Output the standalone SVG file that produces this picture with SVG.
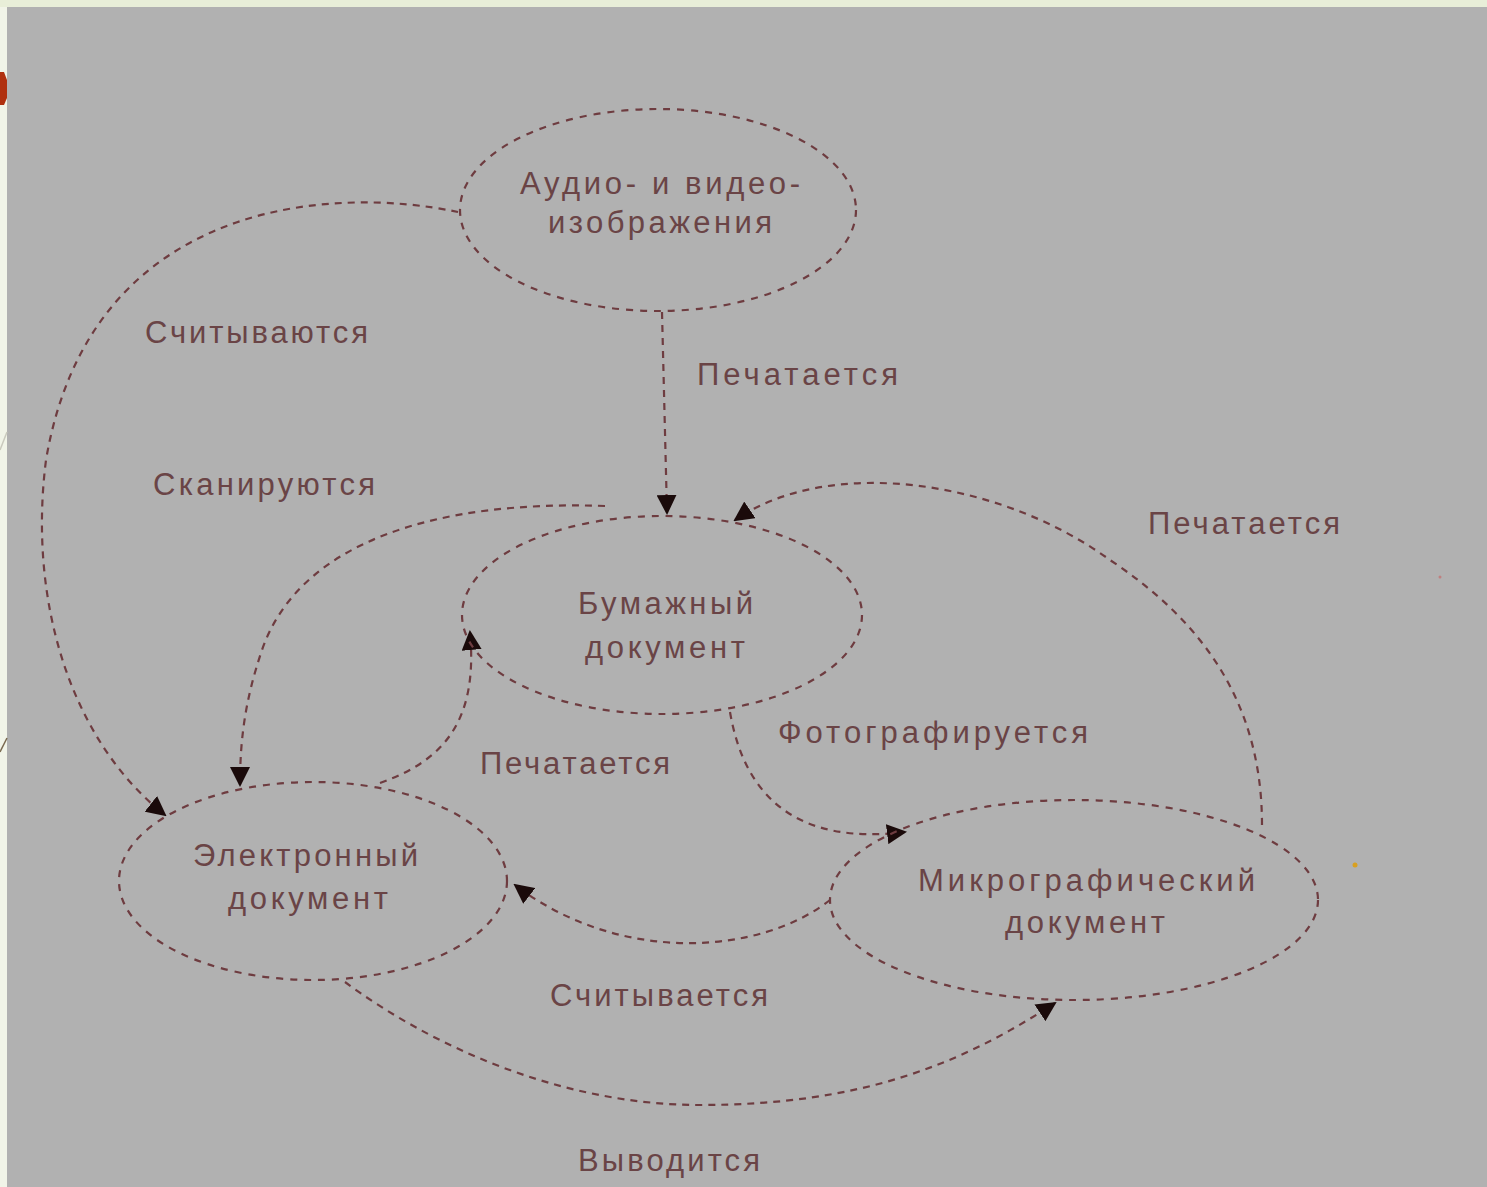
<svg xmlns="http://www.w3.org/2000/svg" width="1487" height="1187" viewBox="0 0 1487 1187">
  <defs>
    <marker id="arrow" viewBox="0 0 10 10" refX="9" refY="5" markerWidth="20" markerHeight="20" markerUnits="userSpaceOnUse" orient="auto">
      <path d="M0,0 L10,5 L0,10 z" fill="#1a0a0a"/>
    </marker>
    <style>
      .node { fill: none; stroke: #6e3c40; stroke-width: 2.2; stroke-dasharray: 7 7; }
      .edge { fill: none; stroke: #6e3c40; stroke-width: 2.2; stroke-dasharray: 7 6; }
      .t { font-family: "Liberation Sans", Arial, sans-serif; font-size: 31px; fill: #6a4446; text-anchor: start; }
    </style>
  </defs>

  <!-- slide margin and panel -->
  <rect x="0" y="0" width="1487" height="1187" fill="#f1f4e8"/>
  <rect x="0" y="0" width="1487" height="7" fill="#e8eed8"/>
  <rect x="7" y="7" width="1480" height="1180" fill="#b1b1b1"/>
  <path d="M0,72 L4,72 L7,80 L7,98 L4,105 L0,105 z" fill="#b0300f"/>
  <path d="M0,450 L7,432" stroke="#c9c9bd" stroke-width="1.5" fill="none"/>
  <path d="M0,752 L7,738" stroke="#7a6a50" stroke-width="1.5" fill="none"/>
  <circle cx="1440" cy="577" r="1.5" fill="#c08080"/>
  <circle cx="1355" cy="865" r="2.5" fill="#d9a020"/>

  <g id="connectors">
    <!-- Audio/video -> electronic (read) -->
    <path class="edge" d="M458,212 C330,185 90,200 46,460 C28,600 70,740 165,815" marker-end="url(#arrow)"/>
    <!-- Audio/video -> paper (printed) -->
    <path class="edge" d="M662,312 L667,513" marker-end="url(#arrow)"/>
    <!-- Paper -> electronic (scanned) -->
    <path class="edge" d="M605,506 C440,500 300,540 262,650 C245,700 240,740 240,785" marker-end="url(#arrow)"/>
    <!-- Electronic -> paper (printed) -->
    <path class="edge" d="M380,783 C445,760 478,720 470,632" marker-end="url(#arrow)"/>
    <!-- Paper -> micrographic (photographed) -->
    <path class="edge" d="M730,712 C745,800 800,845 905,832" marker-end="url(#arrow)"/>
    <!-- Micrographic -> paper (printed) -->
    <path class="edge" d="M1262,825 C1262,700 1200,620 1110,560 C1000,480 830,455 735,520" marker-end="url(#arrow)"/>
    <!-- Micrographic -> electronic (read) -->
    <path class="edge" d="M830,900 C760,955 620,965 515,885" marker-end="url(#arrow)"/>
    <!-- Electronic -> micrographic (output) -->
    <path class="edge" d="M345,982 C430,1045 560,1105 700,1105 C860,1105 960,1065 1055,1003" marker-end="url(#arrow)"/>
  </g>

  <g id="node-audio">
    <ellipse class="node" cx="658" cy="210" rx="198" ry="101"/>
    <text class="t" x="520" y="194" textLength="280" lengthAdjust="spacing">Аудио- и видео-</text>
    <text class="t" x="548" y="233" textLength="224" lengthAdjust="spacing">изображения</text>
  </g>

  <g id="node-paper">
    <ellipse class="node" cx="662" cy="615" rx="200" ry="99"/>
    <text class="t" x="578" y="614" textLength="175" lengthAdjust="spacing">Бумажный</text>
    <text class="t" x="585" y="658" textLength="160" lengthAdjust="spacing">документ</text>
  </g>

  <g id="node-electronic">
    <ellipse class="node" cx="313" cy="881" rx="194" ry="99"/>
    <text class="t" x="193" y="866" textLength="225" lengthAdjust="spacing">Электронный</text>
    <text class="t" x="228" y="909" textLength="160" lengthAdjust="spacing">документ</text>
  </g>

  <g id="node-micro">
    <ellipse class="node" cx="1074" cy="900" rx="244" ry="100"/>
    <text class="t" x="918" y="891" textLength="337" lengthAdjust="spacing">Микрографический</text>
    <text class="t" x="1005" y="933" textLength="160" lengthAdjust="spacing">документ</text>
  </g>

  <g id="labels">
    <text class="t" x="145" y="343" textLength="223" lengthAdjust="spacing">Считываются</text>
    <text class="t" x="153" y="495" textLength="222" lengthAdjust="spacing">Сканируются</text>
    <text class="t" x="697" y="385" textLength="201" lengthAdjust="spacing">Печатается</text>
    <text class="t" x="1148" y="534" textLength="192" lengthAdjust="spacing">Печатается</text>
    <text class="t" x="480" y="774" textLength="190" lengthAdjust="spacing">Печатается</text>
    <text class="t" x="778" y="743" textLength="310" lengthAdjust="spacing">Фотографируется</text>
    <text class="t" x="550" y="1006" textLength="218" lengthAdjust="spacing">Считывается</text>
    <text class="t" x="578" y="1171" textLength="182" lengthAdjust="spacing">Выводится</text>
  </g>
</svg>
